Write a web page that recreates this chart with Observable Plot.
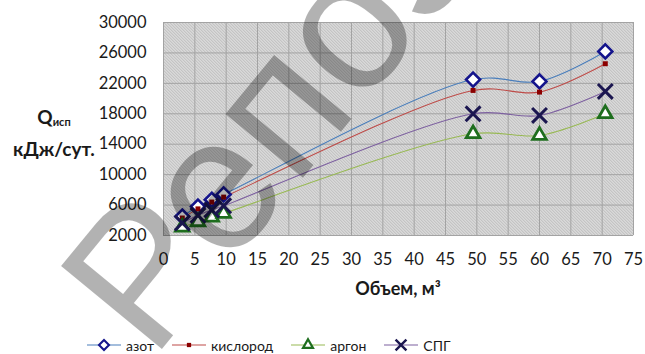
<!DOCTYPE html>
<html><head><meta charset="utf-8">
<script src="https://cdn.jsdelivr.net/npm/d3@7"></script>
<script src="https://cdn.jsdelivr.net/npm/@observablehq/plot@0.6"></script>
<style>
body{margin:0;background:#fff;}
#wrap{position:relative;width:645px;height:354px;overflow:hidden;font-family:Lato,"Open Sans",sans-serif;color:#1a1a1a;}
#wrap svg.plot{position:absolute;left:0;top:0;}
.ov{position:absolute;white-space:nowrap;}
#ytitle{left:0;top:103px;width:108px;text-align:center;font-weight:bold;font-size:19px;line-height:27px;}
#ytitle sub{font-size:11px;vertical-align:-2px;}
#xtitle{left:300px;top:277px;width:196px;text-align:center;font-weight:bold;font-size:18px;}
#legend{left:87px;top:336px;display:flex;align-items:center;font-size:14px;}
#legend .item{display:flex;align-items:center;margin-right:18px;}
#legend svg{margin-right:5px;}
#wm{position:absolute;left:0;top:0;pointer-events:none;}
</style></head><body><div id="wrap"></div>
<script>
// ---- data ----
const volumes = [3, 5.5, 7.7, 9.6, 49.4, 60, 70.5];
const seriesNames = ["азот", "кислород", "аргон", "СПГ"];
const azot     = [4500, 5800, 6700, 7400, 22500, 22250, 26200];
const kislorod = [4300, 5500, 6400, 7050, 21070, 20850, 24580];
const argon    = [3100, 3800, 4400, 4900, 15370, 15150, 18000];
const spg      = [3650, 4650, 5350, 5900, 18000, 17780, 20940];
const xTicks = [0, 5, 10, 15, 20, 25, 30, 35, 40, 45, 50, 55, 60, 65, 70, 75];
const yTicks = [2000, 6000, 10000, 14000, 18000, 22000, 26000, 30000];
const xLabel = "Объем, м³";
const watermark = "Репозиторий";

// ---- styles ----
const styles = {
  "азот":     {line: "#4a7ebb", symbol: "diamond2", stroke: "#14148c", fill: "white", r: 6.3, sw: 2.6, lr: 4.5},
  "кислород": {line: "#be4b48", symbol: "square",   stroke: "none",    fill: "#8b0000", r: 2.8, sw: 0, lr: 2.4},
  "аргон":    {line: "#98b954", symbol: "triangle2",stroke: "#1e6e1e", fill: "white", r: 6.5, sw: 2.8, lr: 4.7},
  "СПГ":      {line: "#7d60a0", symbol: "times",    stroke: "#1b1650", fill: "none",  r: 6.8, sw: 3,   lr: 5}
};
const values = {"азот": azot, "кислород": kislorod, "аргон": argon, "СПГ": spg};
const table = seriesNames.flatMap(s => volumes.map((v, i) => ({series: s, x: v, y: values[s][i]})));

const marks = [
  Plot.frame({fill: "url(#hatch)", stroke: null}),
  Plot.gridX(xTicks, {stroke: "#a3a3a3", strokeOpacity: 1}),
  Plot.gridY(yTicks, {stroke: "#a3a3a3", strokeOpacity: 1}),
  Plot.axisX(xTicks, {tickSize: 0, tickPadding: 18, label: null, tickFormat: d => String(d)}),
  Plot.axisY(yTicks, {tickSize: 0, tickPadding: 17, label: null, tickFormat: d => String(d)})
];
for (const s of seriesNames) {
  const st = styles[s];
  marks.push(Plot.line(table.filter(d => d.series === s), {x: "x", y: "y", stroke: st.line, strokeWidth: 1.1, curve: "catmull-rom"}));
}
for (const s of seriesNames) {
  const st = styles[s];
  marks.push(Plot.dot(table.filter(d => d.series === s), {x: "x", y: "y", symbol: st.symbol, r: st.r, stroke: st.stroke, fill: st.fill, strokeWidth: st.sw}));
}

const chart = Plot.plot({
  width: 645, height: 330,
  marginLeft: 163, marginRight: 12, marginTop: 22, marginBottom: 95,
  style: {fontFamily: "Lato, 'Open Sans', sans-serif", fontSize: "16.5px", color: "#1a1a1a", background: "transparent", overflow: "visible"},
  x: {domain: [0, 75]},
  y: {domain: [2000, 30000]},
  marks
});
chart.classList.add("plot");
const defs = d3.select(chart).insert("defs", ":first-child");
const pat = defs.append("pattern").attr("id", "hatch").attr("patternUnits", "userSpaceOnUse")
  .attr("width", 3).attr("height", 3);
pat.append("rect").attr("width", 3).attr("height", 3).attr("fill", "#f6f6f6");
for (let i = 0; i < 3; i++) {
  pat.append("rect").attr("x", i).attr("y", i).attr("width", 1).attr("height", 1).attr("fill", "#a2a2a2");
  pat.append("rect").attr("x", (i + 1) % 3).attr("y", i).attr("width", 1).attr("height", 1).attr("fill", "#d6d6d6");
}

const wrap = document.getElementById("wrap");
wrap.appendChild(chart);

const yt = document.createElement("div");
yt.className = "ov"; yt.id = "ytitle";
yt.innerHTML = "Q<sub>исп</sub><br>кДж/сут.";
wrap.appendChild(yt);

const xt = document.createElement("div");
xt.className = "ov"; xt.id = "xtitle";
xt.textContent = xLabel;
wrap.appendChild(xt);

// legend
const leg = document.createElement("div");
leg.className = "ov"; leg.id = "legend";
const symMap = {diamond2: d3.symbolDiamond2, square: d3.symbolSquare, triangle2: d3.symbolTriangle2, times: d3.symbolTimes};
for (const s of seriesNames) {
  const st = styles[s];
  const item = document.createElement("div"); item.className = "item";
  const sv = d3.create("svg").attr("width", 34).attr("height", 18);
  sv.append("line").attr("x1", 0).attr("x2", 34).attr("y1", 9).attr("y2", 9).attr("stroke", st.line).attr("stroke-width", 1.2);
  sv.append("path").attr("transform", "translate(17,9)")
    .attr("d", d3.symbol(symMap[st.symbol], Math.PI * st.lr * st.lr)())
    .attr("fill", st.fill).attr("stroke", st.stroke).attr("stroke-width", st.sw * 0.8);
  item.appendChild(sv.node());
  const t = document.createElement("span"); t.textContent = s;
  item.appendChild(t);
  leg.appendChild(item);
}
wrap.appendChild(leg);

// watermark
const wm = d3.create("svg").attr("id", "wm").attr("width", 645).attr("height", 354);
wm.append("text").attr("transform", "translate(152,361) rotate(-50.5)")
  .attr("font-family", "'Liberation Sans', Arial, sans-serif").attr("font-size", 190)
  .attr("fill", "#000").attr("fill-opacity", 0.3).text(watermark);
wrap.appendChild(wm.node());
</script></body></html>
